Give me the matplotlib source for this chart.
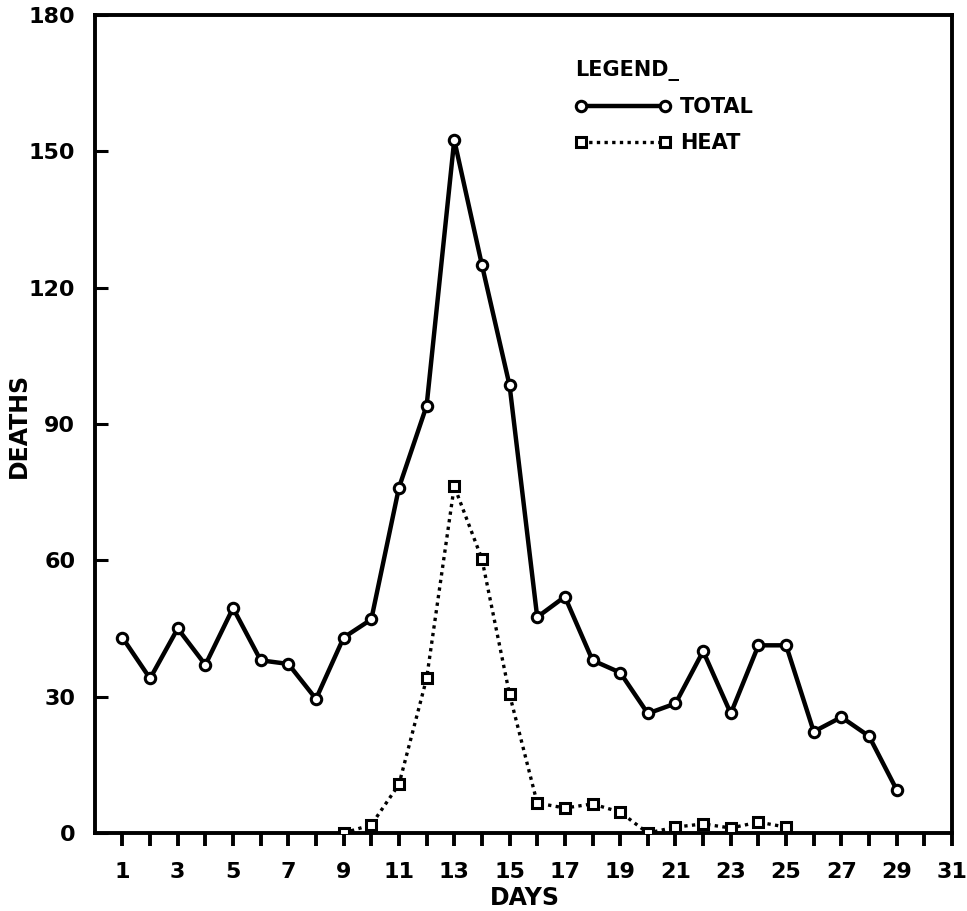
import matplotlib
matplotlib.use("Agg")
import matplotlib.pyplot as plt
from matplotlib.ticker import FixedLocator

days_total = list(range(1, 30))
total = [43, 34, 45, 37, 49.5, 38, 37.2, 29.5, 43, 47, 76, 94, 152.5, 125, 98.5,
         47.5, 52, 38, 35.3, 26.3, 28.5, 40, 26.3, 41.3, 41.3, 22.3, 25.5, 21.3, 9.5]
days_heat = list(range(9, 26))
heat = [0, 1.8, 10.7, 34, 76.3, 60.3, 30.5, 6.6, 5.5, 6.4, 4.6, 0, 1.3, 2, 1.1, 2.4, 1.3]

x_ticks = list(range(1, 32))
x_labels = [str(d) if d % 2 == 1 else "" for d in x_ticks]
y_ticks = [0, 30, 60, 90, 120, 150, 180]

fig = plt.figure(figsize=(9.67, 9.11), dpi=100)
ax = fig.add_axes([0.098, 0.0856, 0.8865, 0.898])

ax.plot(days_total, total, color="black", lw=3.2, marker="o", ms=7.5,
        mfc="white", mec="black", mew=2.2, label="TOTAL", zorder=3)
ax.plot(days_heat, heat, color="black", lw=2.4, ls=(0, (1, 1.3)), marker="s", ms=7,
        mfc="white", mec="black", mew=2.2, label="HEAT", zorder=3)

ax.set_xlim(0, 31)
ax.set_ylim(0, 180)
ax.xaxis.set_major_locator(FixedLocator(x_ticks))
ax.set_xticklabels(x_labels)
ax.set_yticks(y_ticks)

for sp in ax.spines.values():
    sp.set_linewidth(2.8)

ax.tick_params(axis="x", direction="out", length=9, width=2.8, labelsize=16, pad=12)
ax.tick_params(axis="y", direction="in", length=9, width=2.2, labelsize=16, pad=14)
for lab in ax.get_xticklabels() + ax.get_yticklabels():
    lab.set_fontweight("bold")

ax.set_xlabel("DAYS", fontsize=17, fontweight="bold", va="center")
ax.xaxis.set_label_coords((525 - 95) / 857, -(898 - 833) / 818)
ax.set_ylabel("DEATHS", fontsize=17, fontweight="bold", va="center")
ax.yaxis.set_label_coords((19 - 95) / 857, (833 - 425) / 818)

leg = ax.legend(loc="upper left", bbox_to_anchor=(0.548, 0.958), frameon=False,
                borderpad=0, numpoints=2, handlelength=4.6, handletextpad=0.45,
                labelspacing=0.75,
                title="LEGEND_", prop={"size": 15, "weight": "bold"},
                title_fontproperties={"size": 15, "weight": "bold"})
leg._legend_box.align = "left"
leg._legend_box.sep = 12

fig.savefig("out.png", dpi=100)
